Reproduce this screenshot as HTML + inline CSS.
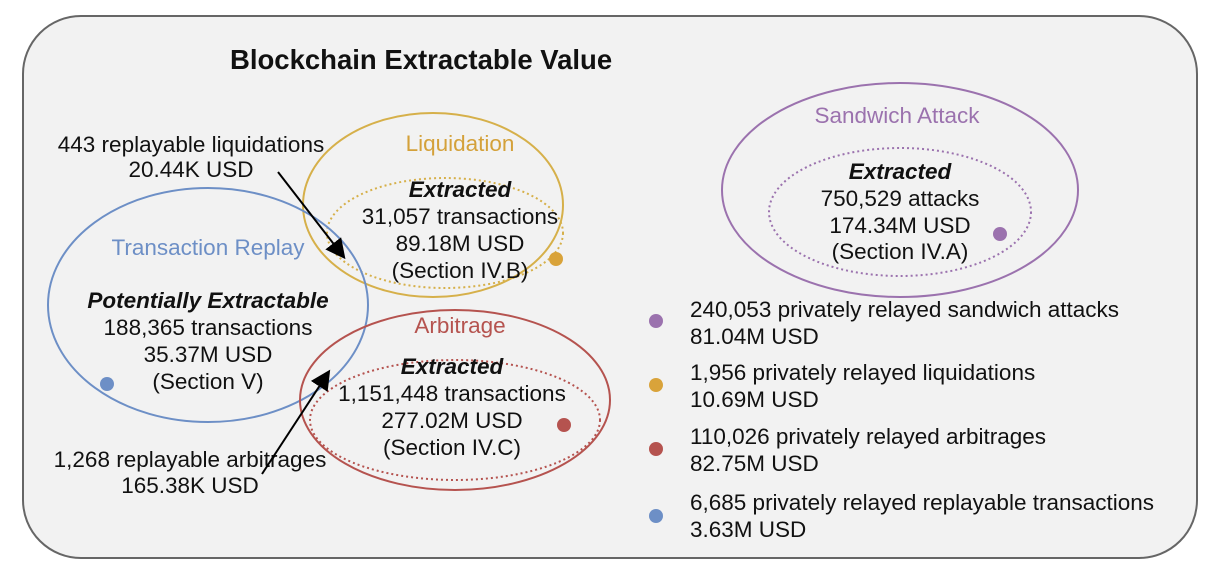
<!DOCTYPE html>
<html><head><meta charset="utf-8"><style>
html,body{margin:0;padding:0;background:#fff;}
svg{display:block;font-family:"Liberation Sans",Arial,sans-serif;}
text{font-size:22.5px;fill:#111;}
</style></head><body>
<svg width="1214" height="576" viewBox="0 0 1214 576">
<defs><marker id="ah" markerWidth="10" markerHeight="10" refX="8" refY="5" orient="auto"><path d="M0,0 L10,5 L0,10 z" fill="#000"/></marker></defs>
<rect x="23" y="16" width="1174" height="542" rx="58" fill="#f2f2f2" stroke="#666" stroke-width="2"/>
<text x="230" y="69" font-weight="bold" style="font-size:27.5px">Blockchain Extractable Value</text>

<g>
<ellipse cx="433" cy="205" rx="130" ry="92" fill="none" stroke="#d6b04a" stroke-width="2"/>
<ellipse cx="445" cy="233" rx="118" ry="55" fill="none" stroke="#d6b04a" stroke-width="2" stroke-dasharray="2,3"/>
<text x="460" y="151" text-anchor="middle" style="fill:#d4a13a">Liquidation</text>
<text x="460" y="197" text-anchor="middle" font-weight="bold" font-style="italic">Extracted</text>
<text x="460" y="224" text-anchor="middle">31,057 transactions</text>
<text x="460" y="251" text-anchor="middle">89.18M USD</text>
<text x="460" y="278" text-anchor="middle">(Section IV.B)</text>
<circle cx="556" cy="259" r="7" fill="#d9a33a"/>
</g>

<g>
<ellipse cx="208" cy="305" rx="160" ry="117" fill="none" stroke="#6d8fc6" stroke-width="2"/>
<text x="208" y="255" text-anchor="middle" style="fill:#6d8fc6">Transaction Replay</text>
<text x="208" y="308" text-anchor="middle" font-weight="bold" font-style="italic">Potentially Extractable</text>
<text x="208" y="335" text-anchor="middle">188,365 transactions</text>
<text x="208" y="362" text-anchor="middle">35.37M USD</text>
<text x="208" y="389" text-anchor="middle">(Section V)</text>
<circle cx="107" cy="384" r="7" fill="#6d8fc6"/>
</g>

<g>
<ellipse cx="455" cy="400" rx="155" ry="90" fill="none" stroke="#b5534f" stroke-width="2"/>
<ellipse cx="455" cy="420" rx="145" ry="60" fill="none" stroke="#b5534f" stroke-width="2" stroke-dasharray="2,3"/>
<text x="460" y="333" text-anchor="middle" style="fill:#b5534f">Arbitrage</text>
<text x="452" y="374" text-anchor="middle" font-weight="bold" font-style="italic">Extracted</text>
<text x="452" y="401" text-anchor="middle">1,151,448 transactions</text>
<text x="452" y="428" text-anchor="middle">277.02M USD</text>
<text x="452" y="455" text-anchor="middle">(Section IV.C)</text>
<circle cx="564" cy="425" r="7" fill="#b5534f"/>
</g>

<g>
<ellipse cx="900" cy="190" rx="178" ry="107" fill="none" stroke="#9b72ae" stroke-width="2"/>
<ellipse cx="900" cy="212" rx="131" ry="64" fill="none" stroke="#9b72ae" stroke-width="2" stroke-dasharray="2,3"/>
<text x="897" y="123" text-anchor="middle" style="fill:#9b72ae">Sandwich Attack</text>
<text x="900" y="179" text-anchor="middle" font-weight="bold" font-style="italic">Extracted</text>
<text x="900" y="206" text-anchor="middle">750,529 attacks</text>
<text x="900" y="233" text-anchor="middle">174.34M USD</text>
<text x="900" y="259" text-anchor="middle">(Section IV.A)</text>
<circle cx="1000" cy="234" r="7" fill="#9b72ae"/>
</g>

<g>
<text x="191" y="152" text-anchor="middle">443 replayable liquidations</text>
<text x="191" y="177" text-anchor="middle">20.44K USD</text>
<line x1="278" y1="172" x2="343" y2="256" stroke="#000" stroke-width="2" marker-end="url(#ah)"/>
</g>
<g>
<text x="190" y="467" text-anchor="middle">1,268 replayable arbitrages</text>
<text x="190" y="493" text-anchor="middle">165.38K USD</text>
<line x1="262" y1="474" x2="328" y2="373" stroke="#000" stroke-width="2" marker-end="url(#ah)"/>
</g>

<g>
<g><circle cx="656" cy="321" r="7" fill="#9b72ae"/><text x="690" y="317">240,053 privately relayed sandwich attacks</text><text x="690" y="344">81.04M USD</text></g>
<g><circle cx="656" cy="385" r="7" fill="#d9a33a"/><text x="690" y="380">1,956 privately relayed liquidations</text><text x="690" y="407">10.69M USD</text></g>
<g><circle cx="656" cy="449" r="7" fill="#b5534f"/><text x="690" y="444">110,026 privately relayed arbitrages</text><text x="690" y="471">82.75M USD</text></g>
<g><circle cx="656" cy="516" r="7" fill="#6d8fc6"/><text x="690" y="510">6,685 privately relayed replayable transactions</text><text x="690" y="537">3.63M USD</text></g>
</g>
</svg>
</body></html>
